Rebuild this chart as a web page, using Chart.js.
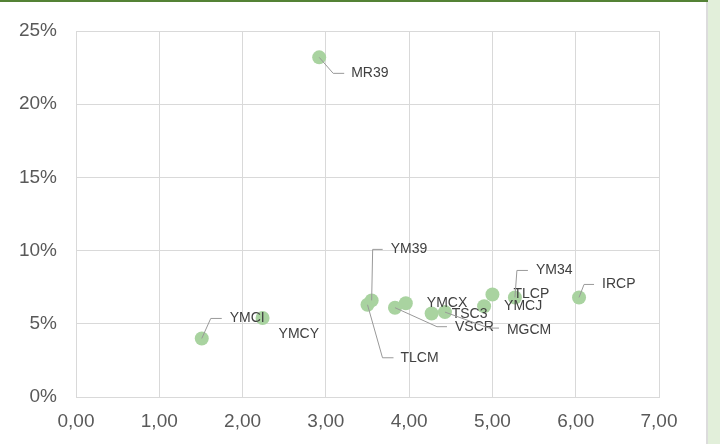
<!DOCTYPE html>
<html>
<head>
<meta charset="utf-8">
<script src="https://cdn.jsdelivr.net/npm/chart.js@4/dist/chart.umd.min.js"></script>
<style>
  html, body { margin: 0; padding: 0; background: #fff; }
  .frame { position: relative; width: 720px; height: 444px; overflow: hidden; background: #fff; }
  .topbar { position: absolute; left: 0; top: 0; width: 708px; height: 2px; background: #548235; }
  .edge { position: absolute; left: 706px; top: 2px; width: 2px; height: 442px; background: #dcdcdc; }
  .strip { position: absolute; left: 708px; top: 0; width: 12px; height: 444px; background: #e2efda; }
  #scatterChart { position: absolute; left: 0; top: 0; }
</style>
</head>
<body>
<div class="frame">
  <canvas id="scatterChart" width="706" height="444"></canvas>
  <div class="topbar"></div>
  <div class="edge"></div>
  <div class="strip"></div>
</div>
<script>
(() => {
// ===== DATA =====
const names = ["MR39", "YMCI", "YMCY", "TLCM", "YM39", "VSCR", "YMCX", "TSC3", "MGCM", "YMCJ", "TLCP", "YM34", "IRCP"];
const xValues = [2.92, 1.51, 2.24, 3.50, 3.55, 3.83, 3.96, 4.27, 4.43, 4.90, 5.00, 5.27, 6.04];
const yValues = [23.2, 4.0, 5.4, 6.3, 6.6, 6.1, 6.4, 5.7, 5.8, 6.2, 7.0, 6.8, 6.8];
const xTicks = [0, 1, 2, 3, 4, 5, 6, 7];
const yTicks = [0, 5, 10, 15, 20, 25];

// label placement (pixels from the point): text anchor + optional leader path
const labelPlacement = {
  MR39: { dx: 32, dy: 16, leader: [[14, 16], [25, 16]] },
  YMCI: { dx: 28, dy: -20, leader: [[9, -20], [20, -20]] },
  YMCY: { dx: 16, dy: 16 },
  TLCM: { dx: 33, dy: 53, leader: [[15, 53], [26, 53]] },
  YM39: { dx: 19, dy: -51, leader: [[1, -51], [11, -51]] },
  VSCR: { dx: 60, dy: 19, leader: [[42, 19], [52, 19]] },
  YMCX: { dx: 21, dy: 0 },
  TSC3: { dx: 20, dy: 1 },
  MGCM: { dx: 62, dy: 18, leader: [[44, 16], [54, 16]] },
  YMCJ: { dx: 20, dy: 0 },
  TLCP: { dx: 21, dy: 0 },
  YM34: { dx: 21, dy: -27, leader: [[2, -27], [13, -27]] },
  IRCP: { dx: 23, dy: -13, leader: [[5, -13], [15, -13]] },
};

const points = names.map((name, i) => ({ x: xValues[i], y: yValues[i], name }));

/* ===============================
   DATA LABELS + LEADER LINES
   =============================== */
const pointLabels = {
  id: "pointLabels",
  afterDatasetsDraw(chart) {
    const { ctx } = chart;
    const meta = chart.getDatasetMeta(0);
    ctx.save();
    meta.data.forEach((el, i) => {
      const place = labelPlacement[names[i]];
      if (!place) return;
      const px = el.x;
      const py = el.y;

      if (place.leader) {
        ctx.beginPath();
        ctx.strokeStyle = "#999999";
        ctx.lineWidth = 1;
        ctx.moveTo(px, py);
        place.leader.forEach(([lx, ly]) => ctx.lineTo(px + lx, py + ly));
        ctx.stroke();
      }

      ctx.fillStyle = "#404040";
      ctx.font = "14px 'Liberation Sans', Arial, sans-serif";
      ctx.textAlign = "left";
      ctx.textBaseline = "middle";
      ctx.fillText(names[i], px + place.dx, py + place.dy);
    });
    ctx.restore();
  }
};

const ctx = document.getElementById("scatterChart");

new Chart(ctx, {
  type: "scatter",
  data: {
    datasets: [{
      data: points,
      backgroundColor: "#a9d3a0",
      borderWidth: 0,
      pointRadius: 7,
      pointHoverRadius: 7,
    }]
  },
  options: {
    responsive: false,
    animation: false,
    layout: { padding: { top: 31, right: 47, bottom: 0, left: 0 } },
    plugins: {
      legend: { display: false },
      tooltip: { enabled: false },
    },
    scales: {
      x: {
        type: "linear",
        min: xTicks[0],
        max: xTicks[xTicks.length - 1],
        afterBuildTicks: (scale) => { scale.ticks = xTicks.map(v => ({ value: v })); },
        afterFit: (scale) => { scale.height = 47; },
        grid: { color: "#d9d9d9", lineWidth: 1, drawTicks: false },
        border: { color: "#d9d9d9" },
        ticks: {
          padding: 13,
          color: "#595959",
          font: { family: "'Liberation Sans', Arial, sans-serif", size: 19 },
          callback: (v) => v.toFixed(2).replace(".", ","),
        },
      },
      y: {
        type: "linear",
        min: yTicks[0],
        max: yTicks[yTicks.length - 1],
        afterBuildTicks: (scale) => { scale.ticks = yTicks.map(v => ({ value: v })); },
        afterFit: (scale) => { scale.width = 76; },
        grid: { color: "#d9d9d9", lineWidth: 1, drawTicks: false },
        border: { color: "#d9d9d9" },
        ticks: {
          padding: 19,
          color: "#595959",
          font: { family: "'Liberation Sans', Arial, sans-serif", size: 19 },
          callback: (v) => v + "%",
        },
      },
    },
  },
  plugins: [pointLabels],
});
})();
</script>
</body>
</html>
